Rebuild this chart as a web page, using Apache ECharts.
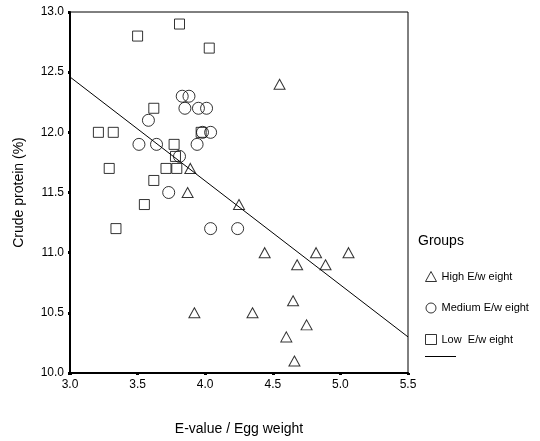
<!DOCTYPE html>
<html>
<head>
<meta charset="utf-8">
<script src="https://cdn.jsdelivr.net/npm/echarts@6/dist/echarts.min.js"></script>
<style>
  html, body { margin: 0; padding: 0; background: #fff; }
  #main { width: 540px; height: 441px; }
</style>
</head>
<body>
<div id="main"></div>
<script>
// E-value / egg weight vs crude protein, three groups
var highX = [3.89, 3.87, 4.55, 3.92, 4.25, 4.44, 4.68, 4.82, 4.89, 5.06, 4.65, 4.35, 4.75, 4.60, 4.66]
var highY = [11.7, 11.5, 12.4, 10.5, 11.4, 11.0, 10.9, 11.0, 10.9, 11.0, 10.6, 10.5, 10.4, 10.3, 10.1]

var medX = [3.58, 3.51, 3.64, 3.83, 3.88, 3.85, 3.95, 4.01, 3.98, 4.04, 3.94, 3.81, 3.73, 4.04, 4.24]
var medY = [12.1, 11.9, 11.9, 12.3, 12.3, 12.2, 12.2, 12.2, 12.0, 12.0, 11.9, 11.8, 11.5, 11.2, 11.2]

var lowX = [3.50, 3.81, 4.03, 3.62, 3.21, 3.32, 3.77, 3.78, 3.29, 3.71, 3.79, 3.62, 3.97, 3.55, 3.34]
var lowY = [12.8, 12.9, 12.7, 12.2, 12.0, 12.0, 11.9, 11.8, 11.7, 11.7, 11.7, 11.6, 12.0, 11.4, 11.2]

// fitted regression line end points
var fitX = [3.0, 5.5]
var fitY = [12.46, 10.30]

var groupNames = ['High E/w eight', 'Medium E/w eight', 'Low  E/w eight']

function pairs(xs, ys) {
  return xs.map(function (x, i) { return [x, ys[i]] })
}

var font = 'Liberation Sans, Arial, sans-serif'
var hollow = { color: 'rgba(0,0,0,0)', borderColor: '#000', borderWidth: 1 }

var myChart = echarts.init(document.getElementById('main'))
myChart.setOption({
  animation: false,
  textStyle: { fontFamily: font, color: '#000' },
  grid: {
    left: 70, top: 12, right: 132, bottom: 68,
    show: true, borderColor: '#000', borderWidth: 1
  },
  graphic: [{
    type: 'text', left: 418, top: 234,
    style: { text: 'Groups', font: '14px ' + font, fill: '#000' }
  }],
  legend: [{
    orient: 'vertical', left: 420, top: 266,
    itemWidth: 11, itemHeight: 10, itemGap: 20.5,
    itemStyle: { borderWidth: 1, borderColor: '#000', color: 'rgba(0,0,0,0)' },
    textStyle: { fontSize: 11, fontFamily: font, color: '#000' },
    data: groupNames
  }, {
    orient: 'vertical', left: 420, top: 351,
    itemWidth: 31, itemHeight: 1,
    itemStyle: { color: '#000', borderWidth: 0 },
    formatter: function () { return '' },
    data: [{ name: 'Fit', icon: 'rect' }]
  }],
  xAxis: {
    type: 'value', min: 3.0, max: 5.5, interval: 0.5,
    name: 'E-value / Egg weight', nameLocation: 'middle', nameGap: 49,
    nameTextStyle: { fontSize: 14, color: '#000' },
    axisLine: { lineStyle: { color: '#000', width: 2 } },
    axisTick: { length: 2, lineStyle: { color: '#000', width: 3 } },
    axisLabel: { fontSize: 12, color: '#000', margin: 6, formatter: function (v) { return v.toFixed(1) } },
    splitLine: { show: false }
  },
  yAxis: {
    type: 'value', min: 10.0, max: 13.0, interval: 0.5,
    name: 'Crude protein (%)', nameLocation: 'middle', nameGap: 44,
    nameTextStyle: { fontSize: 14, color: '#000' },
    axisLine: { lineStyle: { color: '#000', width: 2 } },
    axisTick: { length: 2, lineStyle: { color: '#000', width: 3 } },
    axisLabel: { fontSize: 12, color: '#000', margin: 6, formatter: function (v) { return v.toFixed(1) } },
    splitLine: { show: false }
  },
  series: [
    {
      name: groupNames[0], type: 'scatter', symbol: 'triangle', symbolSize: [11, 10],
      itemStyle: hollow, data: pairs(highX, highY)
    },
    {
      name: groupNames[1], type: 'scatter', symbol: 'circle', symbolSize: 12,
      itemStyle: hollow, data: pairs(medX, medY)
    },
    {
      name: groupNames[2], type: 'scatter', symbol: 'rect', symbolSize: 10,
      itemStyle: hollow, data: pairs(lowX, lowY)
    },
    {
      name: 'Fit', type: 'line', symbol: 'none', silent: true,
      itemStyle: { color: '#000' },
      lineStyle: { color: '#000', width: 1 },
      data: pairs(fitX, fitY)
    }
  ]
})
</script>
</body>
</html>
